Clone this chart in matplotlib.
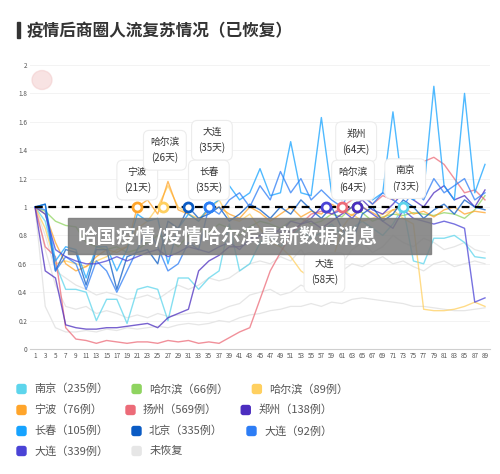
import numpy as np
import matplotlib
matplotlib.use("Agg")
import matplotlib.pyplot as plt
from matplotlib.patches import Rectangle, FancyBboxPatch, Circle

plt.rcParams['font.family'] = ['Noto Sans CJK SC', 'DejaVu Sans']

# days sampled (every second day, matching the axis ticks)
days = list(range(1, 90, 2))

# recovery index per city (1 = pre-epidemic level)
nanjing = [1.0, 0.9, 0.6, 0.42, 0.42, 0.4, 0.2, 0.35, 0.35, 0.18, 0.42, 0.44, 0.42, 0.2, 0.5,
           0.5, 0.42, 0.5, 0.55, 0.88, 0.55, 0.6, 0.75, 0.8, 0.72, 0.8, 0.85, 0.78, 0.82, 0.88,
           0.8, 0.85, 0.9, 0.85, 0.8, 0.88, 1.0, 0.62, 0.6, 0.78, 0.78, 0.8, 0.75, 0.65, 0.64]
harbin66 = [1.0, 0.97, 0.9, 0.87, 0.86, 0.75, 0.72, 0.7, 0.72, 0.68, 0.7, 0.75, 0.8, 0.78, 0.72,
            0.8, 0.85, 0.82, 0.88, 0.85, 0.8, 0.86, 0.9, 0.88, 0.85, 0.9, 0.92, 0.88, 0.9, 0.95,
            0.93, 1.0, 0.96, 0.9, 0.93, 0.95, 0.94, 0.96, 0.95, 0.94, 0.96, 0.95, 0.92, 0.98, 1.08]
harbin89 = [1.0, 0.85, 0.6, 0.62, 0.6, 0.58, 0.62, 0.65, 0.7, 0.72, 0.85, 0.9, 1.0, 1.15, 1.0,
            0.95, 0.92, 0.98, 1.05, 0.92, 0.9, 0.95, 0.85, 0.75, 0.72, 0.65, 0.55, 0.5, 0.42, 0.6,
            0.85, 0.95, 0.9, 0.92, 0.95, 0.98, 0.92, 0.88, 0.28, 0.27, 0.27, 0.28, 0.3, 0.33, 0.3]
ningbo = [1.0, 0.95, 0.75, 0.6, 0.55, 0.58, 0.65, 0.7, 0.68, 0.72, 1.0, 1.05, 0.95, 1.18, 0.98,
          0.95, 0.9, 0.98, 1.0, 0.95, 0.92, 1.0, 0.96, 0.9, 0.95, 1.0, 0.93, 0.97, 0.95, 1.02,
          0.98, 0.94, 1.0, 0.96, 0.92, 0.98, 1.0, 0.95, 0.97, 0.93, 0.98, 1.0, 0.95, 0.97, 0.96]
yangzhou = [1.0, 0.72, 0.65, 0.15, 0.07, 0.06, 0.04, 0.06, 0.05, 0.04, 0.05, 0.05, 0.04, 0.06, 0.05,
            0.06, 0.04, 0.05, 0.04, 0.08, 0.12, 0.15, 0.35, 0.55, 0.68, 0.8, 0.88, 0.95, 0.97, 0.95,
            1.0, 1.05, 1.1, 1.02, 1.08, 1.05, 1.1, 1.2, 1.32, 1.35, 1.3, 1.2, 1.1, 1.12, 1.05]
zhengzhou = [1.0, 0.55, 0.5, 0.17, 0.15, 0.14, 0.14, 0.15, 0.15, 0.16, 0.17, 0.18, 0.15, 0.22, 0.25,
             0.28, 0.55, 0.62, 0.66, 0.72, 0.72, 0.75, 0.8, 0.78, 0.85, 0.82, 0.88, 0.9, 0.85, 0.9,
             0.95, 1.0, 1.05, 0.98, 0.95, 1.02, 1.1, 1.05, 1.0, 1.1, 1.15, 1.05, 1.08, 1.0, 1.12]
changchun = [1.0, 1.02, 0.62, 0.72, 0.7, 0.5, 0.72, 0.72, 0.55, 0.7, 0.95, 0.9, 0.92, 0.6, 0.85,
             0.95, 0.9, 1.0, 1.05, 1.15, 1.05, 1.1, 1.27, 1.08, 1.1, 1.46, 1.1, 1.08, 1.63, 1.1,
             1.05, 1.08, 1.12, 1.05, 1.1, 1.67, 1.1, 1.05, 1.1, 1.85, 1.15, 1.05, 1.8, 1.1, 1.3]
beijing = [1.0, 1.02, 0.55, 0.7, 0.68, 0.45, 0.7, 0.7, 0.42, 0.65, 0.68, 0.7, 0.6, 0.9, 0.85,
           1.0, 0.92, 0.95, 1.0, 0.9, 0.95, 1.02, 0.98, 0.92, 1.0, 0.95, 1.05, 0.98, 0.92, 1.0,
           0.85, 0.75, 0.95, 1.0, 0.9, 0.95, 1.05, 1.0, 0.92, 0.98, 1.02, 0.95, 1.05, 1.0, 0.98]
dalian92 = [1.0, 0.98, 0.55, 0.65, 0.6, 0.42, 0.62, 0.55, 0.4, 0.55, 0.7, 0.85, 0.72, 0.55, 0.6,
            0.75, 0.7, 1.0, 0.95, 1.05, 1.1, 1.0, 1.15, 1.05, 1.25, 1.1, 1.2, 1.05, 1.12, 1.05,
            1.0, 1.15, 1.08, 1.02, 1.1, 1.05, 1.0, 1.12, 1.05, 1.2, 1.1, 1.15, 1.2, 1.05, 1.1]
dalian339 = [1.0, 0.95, 0.7, 0.65, 0.62, 0.6, 0.6, 0.62, 0.65, 0.62, 0.65, 0.68, 0.7, 0.65, 0.68,
             0.72, 0.7, 0.68, 0.72, 0.75, 0.7, 0.78, 0.8, 0.85, 0.82, 0.9, 0.88, 0.92, 1.0, 0.95,
             0.98, 0.92, 1.0, 0.95, 0.9, 0.85, 0.98, 0.92, 0.9, 0.88, 0.9, 0.88, 0.85, 0.33, 0.36]
# cities not yet recovered
unrecovered = [
    [1.0, 0.3, 0.15, 0.12, 0.12, 0.13, 0.12, 0.14, 0.13, 0.15, 0.14, 0.15, 0.16, 0.15, 0.17,
     0.18, 0.17, 0.18, 0.2, 0.19, 0.22, 0.24, 0.25, 0.27, 0.28, 0.3, 0.3, 0.32, 0.3, 0.33,
     0.32, 0.35, 0.36, 0.35, 0.34, 0.33, 0.32, 0.3, 0.3, 0.29, 0.28, 0.27, 0.27, 0.28, 0.29],
    [1.0, 0.8, 0.55, 0.5, 0.45, 0.42, 0.38, 0.4, 0.38, 0.35, 0.36, 0.38, 0.35, 0.4, 0.45,
     0.42, 0.45, 0.5, 0.48, 0.5, 0.55, 0.6, 0.62, 0.6, 0.65, 0.62, 0.7, 0.6, 0.55, 0.65,
     0.6, 0.7, 0.75, 0.68, 0.72, 0.8, 0.75, 0.72, 0.78, 0.75, 0.7, 0.72, 0.75, 0.7, 0.68],
    [1.0, 0.7, 0.45, 0.3, 0.28, 0.3, 0.25, 0.27, 0.25, 0.22, 0.24, 0.22, 0.25, 0.23, 0.24,
     0.25, 0.26, 0.25, 0.27, 0.3, 0.32, 0.38, 0.4, 0.42, 0.38, 0.4, 0.45, 0.42, 0.44, 0.5,
     0.55, 0.6, 0.58, 0.62, 0.65, 0.6, 0.62, 0.58, 0.55, 0.6, 0.62, 0.58, 0.6, 0.62, 0.6],
]

names = ['南京', '哈尔滨', '哈尔滨', '宁波', '扬州', '郑州', '长春', '北京', '大连', '大连']
cases = [235, 66, 89, 76, 569, 138, 105, 335, 92, 339]
recover_day = [73, 64, 26, 21, 61, 64, 35, 31, 35, 58]
series = [nanjing, harbin66, harbin89, ningbo, yangzhou, zhengzhou, changchun, beijing,
          dalian92, dalian339]
colors = ['#5dd5ec', '#8fd460', '#ffd060', '#ffa52b', '#ec6b78', '#4b2dbf', '#16a3ff',
          '#0a5bc4', '#2d7df5', '#4a43d6']
gray = '#e6e6e6'

# callouts: index into the series and where the box sits
callouts = [3, 2, 8, 6, 5, 1, 0, 9]
callout_y = [1.19, 1.40, 1.47, 1.19, 1.46, 1.19, 1.20, 0.54]
callout_dx = [0, 0.4, 0.6, 0, -0.2, -0.8, 0.4, -0.4]

yticks = [0, 0.2, 0.4, 0.6, 0.8, 1, 1.2, 1.4, 1.6, 1.8, 2]
ytick_labels = ['0', '0.2', '0.4', '0.6', '0.8', '1', '1.2', '1.4', '1.6', '1.8', '2']

fig = plt.figure(figsize=(5, 4.74), dpi=100)
ax = fig.add_axes([0.0598, 0.2637, 0.9204, 0.5992])

for g in unrecovered:
    ax.plot(days, g, color=gray, lw=0.9, zorder=1)
for s, c in zip(series, colors):
    ax.plot(days, s, color=c, lw=1.0, alpha=0.75, zorder=2)

ax.plot([1, 89], [1, 1], color='black', lw=1.6, ls=(0, (3.5, 2.5)), zorder=4)
for d, c in zip(recover_day, colors):
    ax.plot([d], [1], marker='o', ms=6.5, mfc='white', mec=c, mew=2.0, zorder=5)

for i, y, dx in zip(callouts, callout_y, callout_dx):
    ax.text(recover_day[i] + dx, y, f'{names[i]}\n({recover_day[i]}天)', ha='center',
            va='center', fontsize=7, color='#333333', linespacing=1.6, zorder=6,
            bbox=dict(boxstyle='round,pad=0.7,rounding_size=0.6', fc='white',
                      ec='#ececec', lw=0.8))

ax.set_xlim(0, 90)
ax.set_ylim(0, 2)
ax.set_xticks(days)
ax.set_xticklabels([str(d) for d in days], fontsize=4.6, color='#555555')
ax.set_yticks(yticks)
ax.set_yticklabels(ytick_labels, fontsize=4.6, color='#555555')
ax.tick_params(length=0, pad=2)
ax.grid(axis='y', color='#f3f3f3', lw=0.7)
ax.set_axisbelow(True)
for sp in ['top', 'right', 'left']:
    ax.spines[sp].set_visible(False)
ax.spines['bottom'].set_color('#cfcfcf')

# title
fig.patches.append(Rectangle((17 / 500, 1 - 38 / 474), 3 / 500, 16 / 474,
                             transform=fig.transFigure, color='#333333'))
fig.text(27 / 500, 1 - 31 / 474, '疫情后商圈人流复苏情况（已恢复）', fontsize=12,
         fontweight='bold', color='#333333', va='center', ha='left')

# faint watermark
fig.patches.append(Circle((42 / 500, 1 - 80 / 474), 10 / 500, transform=fig.transFigure,
                          color='#f2c9c9', alpha=0.5))

# overlay banner
fig.patches.append(Rectangle((68 / 500, 1 - 254 / 474), 363 / 500, 36 / 474,
                             transform=fig.transFigure, color='#7a7a7a', alpha=0.85,
                             zorder=10))
fig.text(78 / 500, 1 - 236 / 474, '哈国疫情/疫情哈尔滨最新数据消息', fontsize=14,
         fontweight='bold', color='white', va='center', ha='left', zorder=11)

# legend laid out as a flowing 3-per-row list
labels = [f'{n}（{c}例）' for n, c in zip(names, cases)] + ['未恢复']
leg_colors = colors + [gray]
row_y = [389, 410, 431, 451]
renderer = fig.canvas.get_renderer()
for k, (lab, c) in enumerate(zip(labels, leg_colors)):
    r = k // 3
    if k % 3 == 0:
        x = 17
    y = 1 - row_y[r] / 474
    fig.patches.append(FancyBboxPatch((x / 500, y - 4.5 / 474), 9 / 500, 9 / 474,
                                      boxstyle='round,pad=0,rounding_size=0.004',
                                      transform=fig.transFigure, color=c))
    t = fig.text((x + 17) / 500, y, lab, fontsize=8, color='#555555', va='center', ha='left')
    x = t.get_window_extent(renderer).x1 + 24

fig.savefig('out.png', dpi=100)
